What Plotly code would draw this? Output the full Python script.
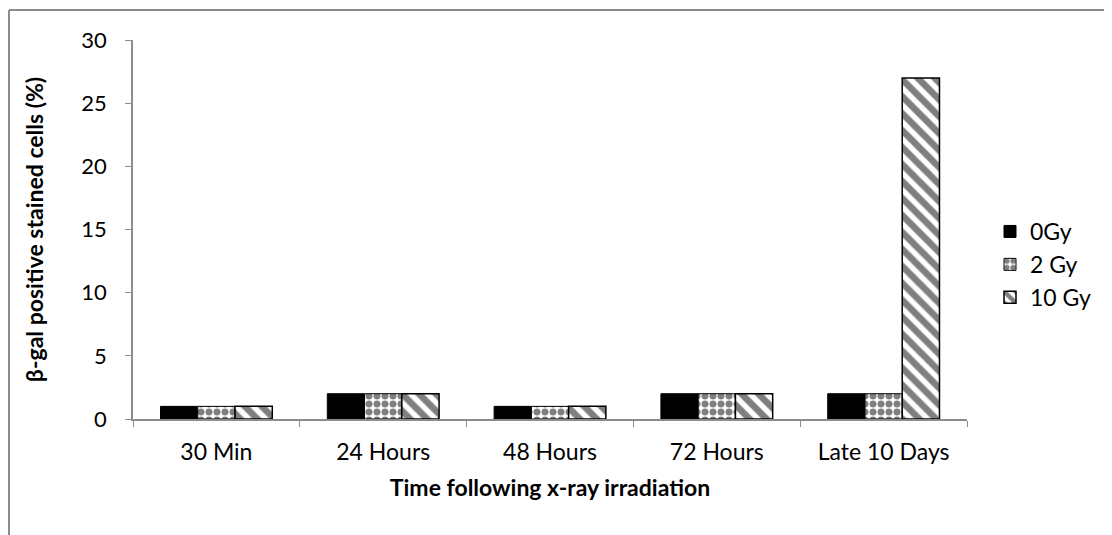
import plotly.graph_objects as go

categories = ["30 Min", "24 Hours", "48 Hours", "72 Hours", "Late 10 Days"]
series_names = ["0Gy", "2 Gy", "10 Gy"]
values_0gy = [1, 2, 1, 2, 2]
values_2gy = [1, 2, 1, 2, 2]
values_10gy = [1, 2, 1, 2, 27]

OFF = 8  # page body margin
W, H = 1112 - OFF, 535 - OFF
L, T = 133 - OFF, 40 - OFF
R = W - (967 - OFF)
B = H - (419 - OFF)
pw, ph = W - L - R, H - T - B

FONT = "Lato, Calibri, Carlito, sans-serif"

fig = go.Figure()
fig.add_trace(go.Bar(
    x=categories, y=values_0gy, name=series_names[0], legendgroup="a",
    marker=dict(color="black", line=dict(color="black", width=1)),
))
fig.add_trace(go.Bar(
    x=categories, y=values_2gy, name=series_names[1], legendgroup="b",
    marker=dict(color="white", line=dict(color="black", width=1),
                pattern=dict(shape=".", fgcolor="black", bgcolor="white",
                             size=8, solidity=0.6, fillmode="overlay")),
))
fig.add_trace(go.Bar(
    x=categories, y=values_10gy, name=series_names[2], legendgroup="c",
    marker=dict(color="white", line=dict(color="black", width=1.5),
                pattern=dict(shape="\\", fgcolor="black", bgcolor="white",
                             size=12, solidity=0.55, fillmode="overlay")),
))

def px_x(v):
    return (v - OFF - L) / pw

def px_y(v):
    return (H - B - (v - OFF)) / ph

shapes = [
    dict(type="line", xref="paper", yref="paper",
         x0=px_x(9), x1=px_x(1115), y0=px_y(10), y1=px_y(10),
         line=dict(color="#8c8c8c", width=2)),
    dict(type="line", xref="paper", yref="paper",
         x0=px_x(9), x1=px_x(9), y0=px_y(10), y1=px_y(540),
         line=dict(color="#8c8c8c", width=2)),
]

fig.update_layout(
    width=W, height=H,
    margin=dict(l=L, r=R, t=T, b=B, autoexpand=False),
    paper_bgcolor="white", plot_bgcolor="white",
    barmode="group", bargap=0.33, bargroupgap=0,
    font=dict(family=FONT, size=22, color="black"),
    shapes=shapes,
    legend=dict(x=px_x(990), y=px_y(210), xanchor="left", yanchor="top",
                font=dict(family=FONT, size=23), tracegroupgap=0,
                itemwidth=30, bgcolor="rgba(0,0,0,0)"),
    xaxis=dict(
        showline=True, linecolor="#8c8c8c", linewidth=1.5,
        ticks="outside", tickson="boundaries", ticklen=6, tickcolor="#8c8c8c",
        tickfont=dict(family=FONT, size=23), ticklabelstandoff=12,
        title=dict(text="<b>Time following x-ray irradiation</b>",
                   font=dict(family=FONT, size=23), standoff=16),
        showgrid=False, automargin=False,
    ),
    yaxis=dict(
        range=[0, 30], dtick=5, showline=True, linecolor="#8c8c8c", linewidth=1.5,
        ticks="outside", ticklen=6, tickcolor="#8c8c8c",
        tickfont=dict(family=FONT, size=22), ticklabelstandoff=14,
        title=dict(text="<b>β-gal positive stained cells (%)</b>",
                   font=dict(family=FONT, size=23), standoff=31),
        showgrid=False, zeroline=False, automargin=False,
    ),
)

fig.write_html("out.html")
